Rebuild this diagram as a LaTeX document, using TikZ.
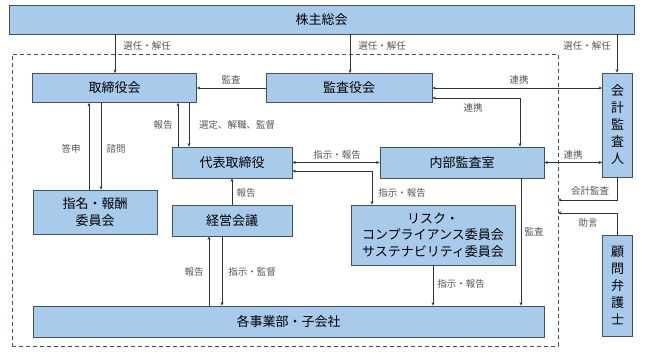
\documentclass[tikz,border=0pt]{standalone}
\usepackage{fontspec}
\setmainfont{Noto Sans CJK JP}
\usetikzlibrary{arrows.meta}
\definecolor{boxfill}{HTML}{A8CAEB}
\definecolor{boxline}{HTML}{3E5166}
\definecolor{linec}{HTML}{333333}
\definecolor{lblc}{HTML}{555555}
\begin{document}
\begin{tikzpicture}[x=1pt,y=-1pt,
  box/.style={draw=boxline, fill=boxfill, line width=0.8pt, inner sep=0pt, align=center, font=\fontsize{13}{16.5}\selectfont},
  vbox/.style={box, font=\fontsize{13}{17}\selectfont},
  lbl/.style={text=lblc, inner sep=0pt, font=\fontsize{9.5}{11}\selectfont},
  conn/.style={draw=linec, line width=0.75pt},
  arr/.style={conn, -{Stealth[length=3.5pt,width=3pt]}},
  arrb/.style={conn, {Stealth[length=3.5pt,width=3pt]}-{Stealth[length=3.5pt,width=3pt]}},
  grpbox/.style={draw=boxline, line width=0.7pt, dash pattern=on 4pt off 3pt}]
\fill[white] (0,0) rectangle (645,363);
\useasboundingbox (0,0) rectangle (645,363);

% group frame
\node[grpbox, minimum width=546pt, minimum height=292pt, inner sep=0pt] (grp) at (285,200) {};

% boxes
\node[box, minimum width=625pt, minimum height=29pt] (kabu) at (321.5,19.5) {株主総会};
\node[box, minimum width=164pt, minimum height=29pt] (tori) at (114.5,88) {取締役会};
\node[box, minimum width=166pt, minimum height=29pt] (kansa) at (349,88) {監査役会};
\node[vbox, minimum width=30pt, minimum height=104pt] (kaikei) at (617.5,125) {会\\計\\監\\査\\人};
\node[vbox, minimum width=30pt, minimum height=101pt] (komon) at (617.5,285.5) {顧\\問\\弁\\護\\士};
\node[box, minimum width=124pt, minimum height=44pt] (shimei) at (95,212) {指名・報酬\\委員会};
\node[box, minimum width=120pt, minimum height=31pt] (daihyo) at (232,162.5) {代表取締役};
\node[box, minimum width=120pt, minimum height=31pt] (keiei) at (232,220.5) {経営会議};
\node[box, minimum width=164pt, minimum height=31pt] (naibu) at (462,162.5) {内部監査室};
\node[box, minimum width=164pt, minimum height=60pt] (risk) at (433,235) {リスク・\\コンプライアンス委員会\\サステナビリティ委員会};
\node[box, minimum width=511pt, minimum height=31pt] (kaku) at (288.5,321.5) {各事業部・子会社};

% helper coordinates
\coordinate (x115) at (115,0);
\coordinate (x350) at (350,0);
\coordinate (x617) at (617,0);
\coordinate (x89) at (89,0);
\coordinate (x101) at (101,0);
\coordinate (x178) at (178,0);
\coordinate (x189) at (189,0);
\coordinate (x209) at (209,0);
\coordinate (x222) at (222,0);
\coordinate (x521) at (521,0);
\coordinate (p1) at (520,98);
\coordinate (p2) at (372,171);
\coordinate (d1) at (558,200);
\coordinate (d2) at (558,213);

% connectors
\draw[arr] (kabu.south -| x115) -- (tori.north -| x115);
\draw[arr] (kabu.south -| x350) -- (kansa.north -| x350);
\draw[arr] (kabu.south -| x617) -- (kaikei.north -| x617);
\draw[arr] (kansa.west) -- (tori.east);
\draw[arrb] (kansa.east) -- (kansa.east -| kaikei.west);
\draw[arrb] (kansa.east |- p1) -- (p1) -- (naibu.north -| p1);
\draw[arr] (shimei.north -| x89) -- (tori.south -| x89);
\draw[arr] (tori.south -| x101) -- (shimei.north -| x101);
\draw[arr] (daihyo.north -| x178) -- (tori.south -| x178);
\draw[arr] (tori.south -| x189) -- (daihyo.north -| x189);
\draw[arrb] (daihyo.east) -- (naibu.west);
\draw[arrb] (daihyo.east |- p2) -- (p2) -- (risk.north -| p2);
\draw[arr] (keiei.north) -- (daihyo.south);
\draw[arr] (kaku.north -| x209) -- (keiei.south -| x209);
\draw[arr] (keiei.south -| x222) -- (kaku.north -| x222);
\draw[arr] (risk.south) -- (kaku.north -| risk.south);
\draw[arr] (naibu.south -| x521) -- (kaku.north -| x521);
\draw[arrb] (naibu.east) -- (naibu.east -| kaikei.west);
\draw[arr] (kaikei.south) -- (kaikei.south |- d1) -- (d1);
\draw[arr] (komon.north) -- (komon.north |- d2) -- (d2);

% labels
\node[lbl] (l1) at (147,46) {選任・解任};
\node[lbl] (l2) at (382,46) {選任・解任};
\node[lbl] (l3) at (587,46) {選任・解任};
\node[lbl] (l4) at (231,80) {監査};
\node[lbl] (l5) at (519,80) {連携};
\node[lbl] (l6) at (473,108) {連携};
\node[lbl] (l7) at (163,125) {報告};
\node[lbl] (l8) at (237,125) {選定、解職、監督};
\node[lbl] (l9) at (71,149) {答申};
\node[lbl] (l10) at (116,149) {諮問};
\node[lbl] (l11) at (337,155) {指示・報告};
\node[lbl] (l12) at (402,193) {指示・報告};
\node[lbl] (l13) at (246,193) {報告};
\node[lbl] (l14) at (194,272) {報告};
\node[lbl] (l15) at (252,272) {指示・監督};
\node[lbl] (l16) at (461,284) {指示・報告};
\node[lbl] (l17) at (534,232) {監査};
\node[lbl] (l18) at (573,155) {連携};
\node[lbl] (l19) at (590,191) {会計監査};
\node[lbl] (l20) at (588,223) {助言};
\end{tikzpicture}
\end{document}
